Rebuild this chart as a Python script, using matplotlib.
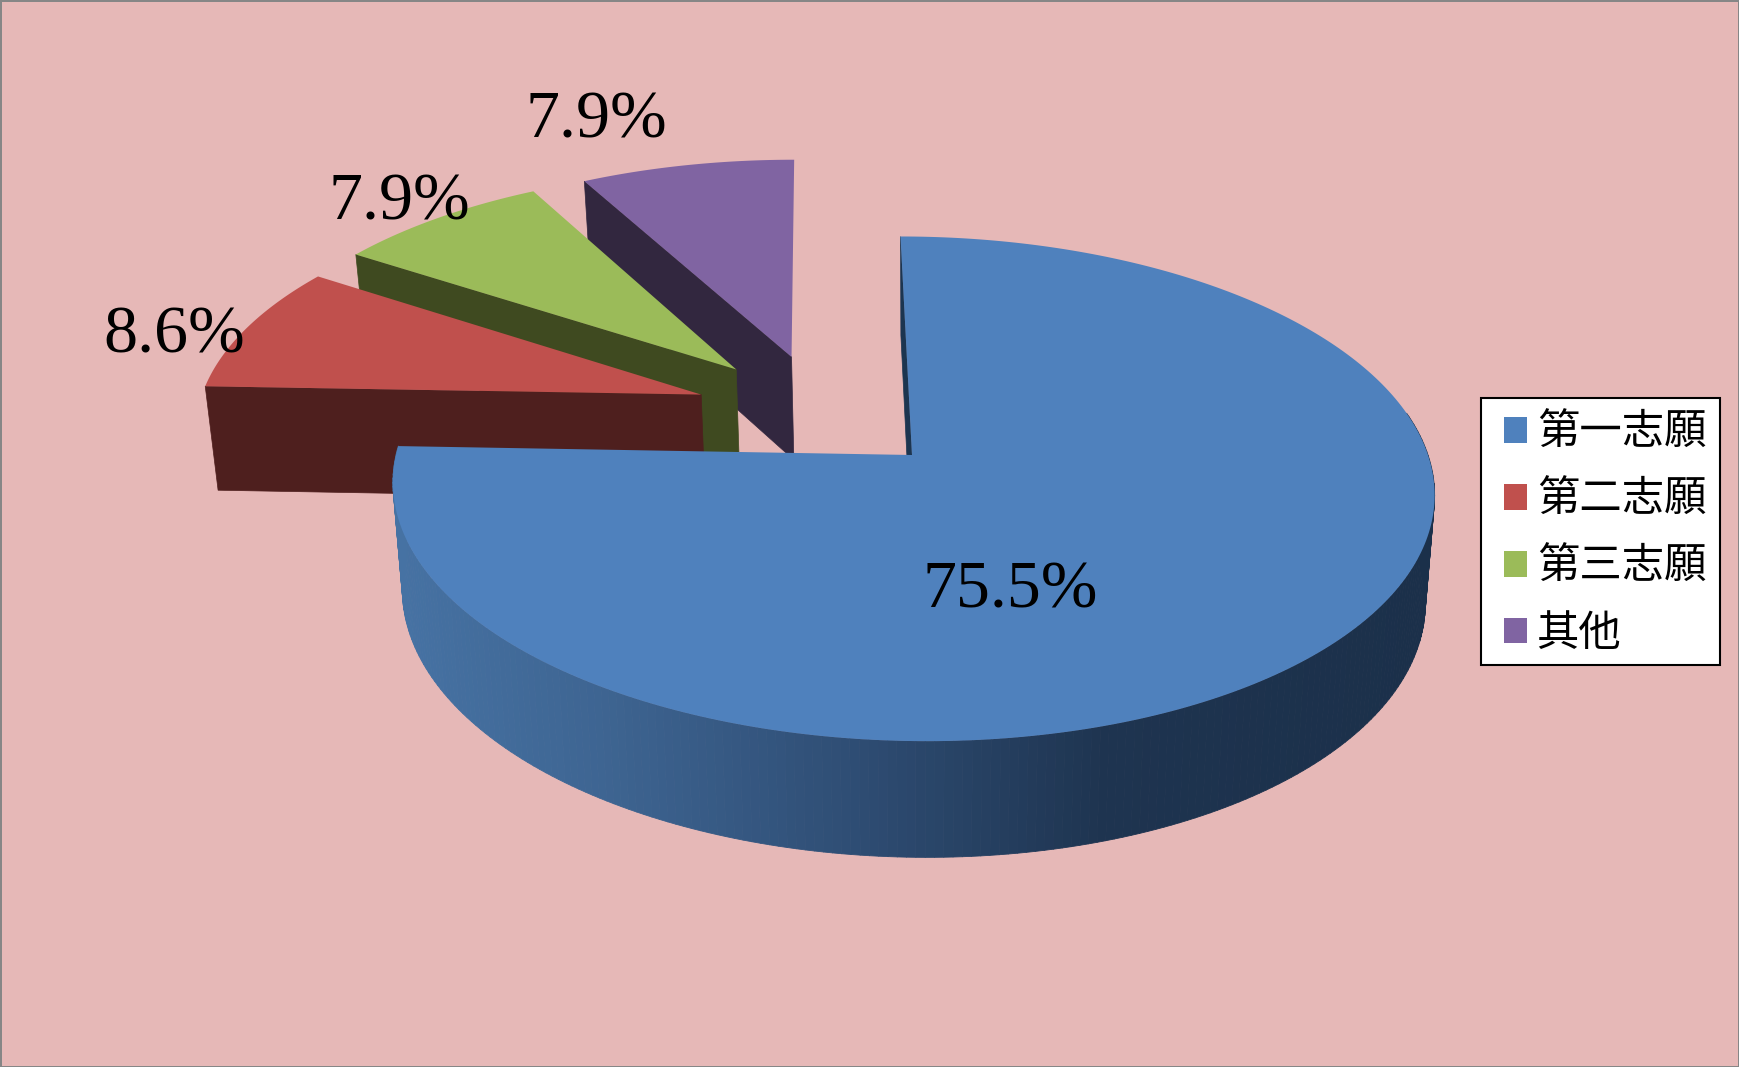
import numpy as np
import matplotlib
matplotlib.use("Agg")
import matplotlib.pyplot as plt
from matplotlib.collections import PolyCollection
from matplotlib.patches import Patch, Rectangle

plt.rcParams["font.family"] = ["Noto Sans CJK TC", "DejaVu Sans"]

categories = ["第一志願", "第二志願", "第三志願", "其他"]
values = [75.5, 8.6, 7.9, 7.9]
value_labels = ["75.5%", "8.6%", "7.9%", "7.9%"]

colors = ["#4F81BD", "#C0504D", "#9BBB59", "#8064A2"]
wall_colors = ["#1C3550", "#4E1F1E", "#3F4A20", "#32273F"]

# how far each slice is pulled out, in pie radius units
explode = [(0.0, 0.0), (-0.416, 0.252), (-0.348, 0.362), (-0.236, 0.418)]

# where the labels sit, in pixels
label_pos = [(1010, 591), (174, 336), (399, 203), (596, 121)]

CX, CY = 912, 455
RX, RY = 516, 247.8
SHEAR = -13
PERSP = 0.134


def project(x, y):
    # pie plane to screen, far side is smaller
    w = 1 + PERSP * y
    return CX + (RX * x + SHEAR * y) / w, CY - RY * y / w


def drop(sx, sy):
    # top rim to bottom rim of the pie
    return 920 + 0.982 * (sx - 920), sy + 104 + 0.0345 * (sy - 387)


fig = plt.figure(figsize=(17.39, 10.67), dpi=100)
fig.patch.set_facecolor("#E6B8B7")
fig.patch.set_edgecolor("#868686")
fig.patch.set_linewidth(2)

ax = fig.add_axes([0, 0, 1, 1])
ax.set_xlim(0, 1739)
ax.set_ylim(1067, 0)
ax.axis("off")

total = sum(values)
start = 0.0
slices = []
for i, v in enumerate(values):
    sweep = 360 * v / total
    slices.append((i, start, start + sweep))
    start += sweep

# back slices first, the big one goes on top
for i, a0, a1 in [slices[3], slices[2], slices[1], slices[0]]:
    z = 10 + 3 * (3 - i)
    ex, ey = explode[i]
    deg = np.linspace(a0, a1, 300)
    t = np.radians(deg)
    x = ex + np.sin(t)
    y = ey + np.cos(t)
    sx, sy = project(x, y)
    ax0, ay0 = project(np.array([ex]), np.array([ey]))

    # cut face below the first radius
    top_a = project(ex + np.sin(t[0]), ey + np.cos(t[0]))
    face = [top_a, (ax0[0], ay0[0]), drop(ax0[0], ay0[0]), drop(*top_a)]
    ax.fill(*zip(*face), color=wall_colors[i], lw=0.5, zorder=z)

    if i == 0:
        bx, by = drop(sx, sy)
        quads = []
        shade = []
        for j in range(len(t) - 1):
            # far side of the rim stays hidden
            if deg[j] < 80:
                continue
            quads.append([(sx[j], sy[j]), (sx[j + 1], sy[j + 1]),
                          (bx[j + 1], by[j + 1]), (bx[j], by[j])])
            shade.append(sx[j])
        shade = np.array(shade)
        stops = [400, 600, 850, 1110, 1430]
        rgb = np.array([[0x46, 0x72, 0xA3], [0x3E, 0x65, 0x92],
                        [0x2F, 0x4E, 0x75], [0x1E, 0x34, 0x50],
                        [0x1B, 0x30, 0x4A]]) / 255
        cols = np.column_stack([np.interp(shade, stops, rgb[:, k]) for k in range(3)])
        ax.add_collection(PolyCollection(quads, facecolors=cols, edgecolors=cols,
                                         linewidths=0.6, zorder=z + 1))

    px = np.concatenate([[ax0[0]], sx])
    py = np.concatenate([[ay0[0]], sy])
    ax.fill(px, py, color=colors[i], lw=0, zorder=z + 2)

for lab, (lx, ly) in zip(value_labels, label_pos):
    ax.text(lx, ly, lab, family="Liberation Serif", fontsize=49, color="black",
            ha="center", va="center", zorder=40)

# legend box is its own rectangle, padding is not even on all sides
ax.add_patch(Rectangle((1481, 398), 239, 267, facecolor="white", edgecolor="black",
                       linewidth=1.5, zorder=45))
handles = [Patch(facecolor=c, edgecolor="none", label=n) for c, n in zip(colors, categories)]
leg = ax.legend(handles=handles, loc="upper left",
                bbox_to_anchor=(1504 / 1739, 1 - 411 / 1067), bbox_transform=fig.transFigure,
                fontsize=30.5, frameon=False,
                handlelength=0.55, handleheight=0.55, handletextpad=0.22,
                labelspacing=0.54, borderpad=0, borderaxespad=0)
leg.set_zorder(50)

fig.savefig("out.png", dpi=100)
